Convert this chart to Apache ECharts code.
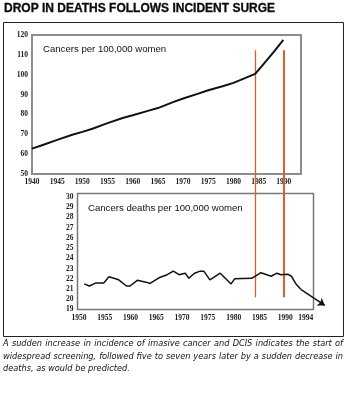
<!DOCTYPE html>
<html>
<head>
<meta charset="utf-8">
<script src="https://cdn.jsdelivr.net/npm/echarts@6/dist/echarts.min.js"></script>
<style>
  html, body { margin: 0; padding: 0; background: #fff; }
  #main { width: 350px; height: 394px; }
</style>
</head>
<body>
<div id="main"></div>
<script>
// top chart: incidence per 100,000 women
var incYears = [1940, 1942, 1945, 1948, 1950, 1952, 1955, 1958, 1960, 1963, 1965, 1968, 1970, 1973, 1975, 1978, 1980, 1984.3, 1986, 1988, 1989.9];
var incValues = [62.8, 64.5, 67.2, 69.8, 71.2, 72.8, 75.6, 78.2, 79.6, 81.8, 83.2, 86.2, 88.0, 90.5, 92.2, 94.3, 95.9, 100.4, 105.5, 111.5, 117.5];
var incXTicks = [1940, 1945, 1950, 1955, 1960, 1965, 1970, 1975, 1980, 1985, 1990];
var incYTicks = [50, 60, 70, 80, 90, 100, 110, 120];

// bottom chart: deaths per 100,000 women
var deathYears = [1951, 1952, 1953.3, 1954.8, 1955.8, 1957.7, 1959.2, 1959.9, 1961.3, 1963.2, 1963.8, 1965.5, 1967.1, 1968.3, 1969.4, 1970.6, 1971.3, 1972.4, 1973.5, 1974.2, 1975.4, 1977.4, 1979.5, 1980.2, 1983.5, 1985.3, 1987.3, 1988.4, 1989.2, 1990.5, 1991.2, 1992.1, 1993.1];
var deathValues = [21.5, 21.3, 21.6, 21.6, 22.2, 21.9, 21.3, 21.3, 21.85, 21.65, 21.55, 22.1, 22.4, 22.75, 22.4, 22.55, 22.05, 22.55, 22.75, 22.75, 21.9, 22.55, 21.5, 22.0, 22.05, 22.6, 22.25, 22.55, 22.4, 22.45, 22.25, 21.5, 20.95];
var deathArrowEnd = [1997.7, 19.4];
var deathXTicks = [1950, 1955, 1960, 1965, 1970, 1975, 1980, 1985, 1990, 1994];
var deathYTicks = [19, 20, 21, 22, 23, 24, 25, 26, 27, 28, 29, 30];

// screening start / drop in deaths
var screenYears = [1984.3, 1990.1];
var screenWidths = [1.3, 2];
var screenTop = 112.3;   // on top y axis
var screenBottom = 20.2; // on bottom y axis

var titleText = "DROP IN DEATHS FOLLOWS INCIDENT SURGE";
var topLabel = "Cancers per 100,000 women";
var bottomLabel = "Cancers deaths per 100,000 women";
var captionLines = [
  "A sudden increase in incidence of imasive cancer and DCIS indicates the start of",
  "widespread screening, followed five to seven years later by a sudden decrease in",
  "deaths, as would be predicted."
];

var tickFont = { fontFamily: "Liberation Serif", fontWeight: "bold", fontSize: 7.5, color: "#1a1a1a" };
var captionFamily = '"Liberation Sans Narrow", "DejaVu Sans Condensed", "Liberation Sans", sans-serif';

function zip(xs, ys) {
  return xs.map(function (x, i) { return [x, ys[i]]; });
}

function axis(gridIndex, min, max, ticks, margin) {
  return {
    type: "value",
    gridIndex: gridIndex,
    min: min,
    max: max,
    axisLine: { show: false },
    axisTick: { show: false },
    splitLine: { show: false },
    axisLabel: Object.assign({
      customValues: ticks, margin: margin,
      formatter: function (v) { return String(v); }
    }, tickFont)
  };
}

var chart = echarts.init(document.getElementById("main"));

var option = {
  animation: false,
  grid: [
    { left: 32, top: 35, width: 269, height: 139, show: true, borderColor: "#8c8c8c", borderWidth: 2 },
    { left: 77.5, top: 193.5, width: 236, height: 116, show: true, borderColor: "#777", borderWidth: 1.5 }
  ],
  xAxis: [
    axis(0, 1940, 1993.4, incXTicks, 4),
    axis(1, 1949.7, 1995.5, deathXTicks, 5)
  ],
  yAxis: [
    axis(0, 50, 120, incYTicks, 4),
    axis(1, 19, 30.34, deathYTicks, 4)
  ],
  series: [
    {
      type: "line", xAxisIndex: 0, yAxisIndex: 0,
      data: zip(incYears, incValues),
      showSymbol: false, symbol: "none",
      lineStyle: { color: "#111", width: 2 }
    },
    {
      type: "line", xAxisIndex: 1, yAxisIndex: 1,
      data: zip(deathYears, deathValues),
      showSymbol: false, symbol: "none",
      lineStyle: { color: "#111", width: 1.5 }
    },
    {
      type: "lines", coordinateSystem: "cartesian2d", xAxisIndex: 1, yAxisIndex: 1,
      clip: false,
      symbol: ["none", "arrow"], symbolSize: 7,
      lineStyle: { color: "#111", width: 1.5, opacity: 1 },
      data: [{ coords: [[deathYears[deathYears.length - 1], deathValues[deathValues.length - 1]], deathArrowEnd] }]
    }
  ]
};
chart.setOption(option);

// justified caption: shrink font to fit, then spread words
var ctx = document.createElement("canvas").getContext("2d");
var capTarget = 340;
var capSize = 10;
captionLines.forEach(function (t) {
  ctx.font = "italic 10px " + captionFamily;
  var w = ctx.measureText(t).width;
  if (w * capSize / 10 > capTarget - 4) capSize = 10 * (capTarget - 4) / w;
});

function captionLine(text, y, justify) {
  ctx.font = "italic " + capSize + "px " + captionFamily;
  var words = text.split(" ");
  var total = 0;
  words.forEach(function (w) { total += ctx.measureText(w).width; });
  var gap = justify ? (capTarget - total) / (words.length - 1) : ctx.measureText(" ").width;
  var x = 3;
  return words.map(function (w) {
    var el = {
      type: "text", x: x, y: y,
      style: { text: w, fontFamily: captionFamily, fontStyle: "italic", fontSize: capSize, fill: "#111", verticalAlign: "middle" }
    };
    x += ctx.measureText(w).width + gap;
    return el;
  });
}

var graphics = [
  { type: "rect", shape: { x: 3.5, y: 22.5, width: 340, height: 314 }, style: { fill: null, stroke: "#222", lineWidth: 1 } },
  { type: "text", x: 4, y: 9, style: { text: titleText, fontFamily: "Liberation Sans", fontWeight: 900, fontSize: 12, fill: "#0a0a0a", verticalAlign: "middle", stroke: "#0a0a0a", lineWidth: 0.3 } },
  { type: "text", x: 43, y: 49.5, style: { text: topLabel, fontFamily: "Liberation Sans", fontSize: 9.6, fill: "#111", verticalAlign: "middle" } },
  { type: "text", x: 88, y: 208.5, style: { text: bottomLabel, fontFamily: "Liberation Sans", fontSize: 9.6, fill: "#111", verticalAlign: "middle" } }
];

screenYears.forEach(function (yr, i) {
  var px = chart.convertToPixel({ xAxisIndex: 0 }, yr);
  var y1 = chart.convertToPixel({ yAxisIndex: 0 }, screenTop);
  var y2 = chart.convertToPixel({ yAxisIndex: 1 }, screenBottom);
  var cx = Math.round(px) + (i === 0 ? 0.5 : 0);
  graphics.push({
    type: "line", z: 1,
    shape: { x1: cx, y1: y1, x2: cx, y2: y2 },
    style: { stroke: "#e4582f", lineWidth: screenWidths[i] }
  });
});

var capY = [344, 356.5, 369];
captionLines.forEach(function (t, i) {
  graphics = graphics.concat(captionLine(t, capY[i], i < captionLines.length - 1));
});

chart.setOption({ graphic: graphics });
</script>
</body>
</html>
